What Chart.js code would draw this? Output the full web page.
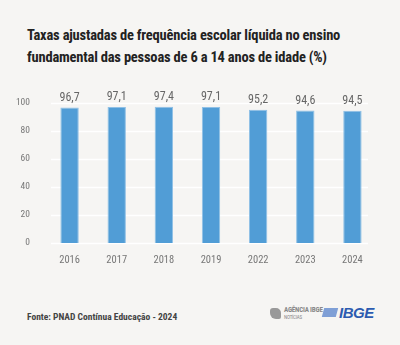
<!DOCTYPE html>
<html>
<head>
<meta charset="utf-8">
<script src="https://cdn.jsdelivr.net/npm/chart.js@4"></script>
<style>
  html, body { margin: 0; padding: 0; background: #f6f5f3; }
  body { width: 400px; height: 345px; position: relative; overflow: hidden; font-family: "Liberation Sans Narrow", "Roboto Condensed", Roboto, sans-serif; }
  #title { position: absolute; left: 27px; top: 25px; font-size: 14.5px; font-weight: bold; color: #222; line-height: 22px; letter-spacing: -0.2px; }
  #wrap { position: absolute; left: 0; top: 80px; width: 400px; height: 190px; }
  #source { position: absolute; left: 27px; top: 311px; font-size: 9.5px; font-weight: bold; color: #444; }
  #icon { position: absolute; left: 270px; top: 308px; width: 11px; height: 11px; background: #999; border-radius: 3px 5px 2px 6px; }
  #agencia { position: absolute; left: 284px; top: 307px; color: #888; font-size: 7px; line-height: 7px; font-weight: bold; letter-spacing: -0.2px; }
  #agencia small { display: block; font-size: 5px; font-weight: normal; line-height: 7px; }
  #ibge { position: absolute; left: 323px; top: 304px; font-size: 15px; font-weight: bold; font-style: italic; color: #2c5bb0; font-family: "Liberation Sans", Arial, sans-serif; letter-spacing: -0.5px; }
  #ibge span { display: inline-block; width: 14px; height: 9px; background: #7f9fd6; margin-right: 2px; transform: skewX(-15deg); vertical-align: 1px; }
</style>
</head>
<body>
<div id="title">Taxas ajustadas de frequência escolar líquida no ensino<br>fundamental das pessoas de 6 a 14 anos de idade (%)</div>
<div id="wrap"><canvas id="c" width="400" height="190"></canvas></div>
<div id="source">Fonte: PNAD Contínua Educação - 2024</div>
<div id="icon"></div>
<div id="agencia">AGÊNCIA IBGE<small>NOTÍCIAS</small></div>
<div id="ibge"><span></span>IBGE</div>
<script>
const categories = ["2016", "2017", "2018", "2019", "2022", "2023", "2024"];
const values = [96.7, 97.1, 97.4, 97.1, 95.2, 94.6, 94.5];
const yTicks = [0, 20, 40, 60, 80, 100];

const FONT = '"Liberation Sans Narrow", "Roboto Condensed", Roboto, sans-serif';

const gridPlugin = {
  id: 'customGrid',
  beforeDatasetsDraw(chart) {
    const ctx = chart.ctx, y = chart.scales.y, a = chart.chartArea;
    ctx.save();
    ctx.strokeStyle = '#ffffff';
    ctx.lineWidth = 1.5;
    yTicks.forEach(v => {
      const py = Math.round(y.getPixelForValue(v)) + 0.5;
      ctx.beginPath();
      ctx.moveTo(a.left + 5, py);
      ctx.lineTo(a.right - 8, py);
      ctx.stroke();
    });
    ctx.restore();
  }
};

const labelPlugin = {
  id: 'valueLabels',
  afterDatasetsDraw(chart) {
    const ctx = chart.ctx;
    const meta = chart.getDatasetMeta(0);
    ctx.save();
    ctx.fillStyle = '#666';
    ctx.font = '12px ' + FONT;
    ctx.textAlign = 'center';
    ctx.textBaseline = 'bottom';
    meta.data.forEach((bar, i) => {
      ctx.fillText(values[i].toFixed(1).replace('.', ','), bar.x, bar.y - 4);
    });
    ctx.restore();
  }
};

new Chart(document.getElementById('c'), {
  type: 'bar',
  data: {
    labels: categories,
    datasets: [{
      data: values,
      backgroundColor: '#519dd6',
      borderColor: '#8fc0e6',
      borderWidth: 1,
      categoryPercentage: 0.78,
      barPercentage: 0.5
    }]
  },
  options: {
    responsive: false,
    animation: false,
    devicePixelRatio: 1,
    layout: { padding: { top: 23, right: 24, left: 0, bottom: 0 } },
    plugins: { legend: { display: false }, tooltip: { enabled: false } },
    scales: {
      x: {
        grid: { display: false },
        border: { display: false },
        ticks: { color: '#777', font: { family: FONT, size: 10.5 }, padding: 3 },
        afterFit(s) { s.height = 27; }
      },
      y: {
        min: 0, max: 100,
        grid: { display: false },
        border: { display: false },
        ticks: { stepSize: 20, color: '#777', font: { family: FONT, size: 9.5 }, padding: 8 },
        afterFit(s) { s.width = 46; }
      }
    }
  },
  plugins: [gridPlugin, labelPlugin]
});
</script>
</body>
</html>
